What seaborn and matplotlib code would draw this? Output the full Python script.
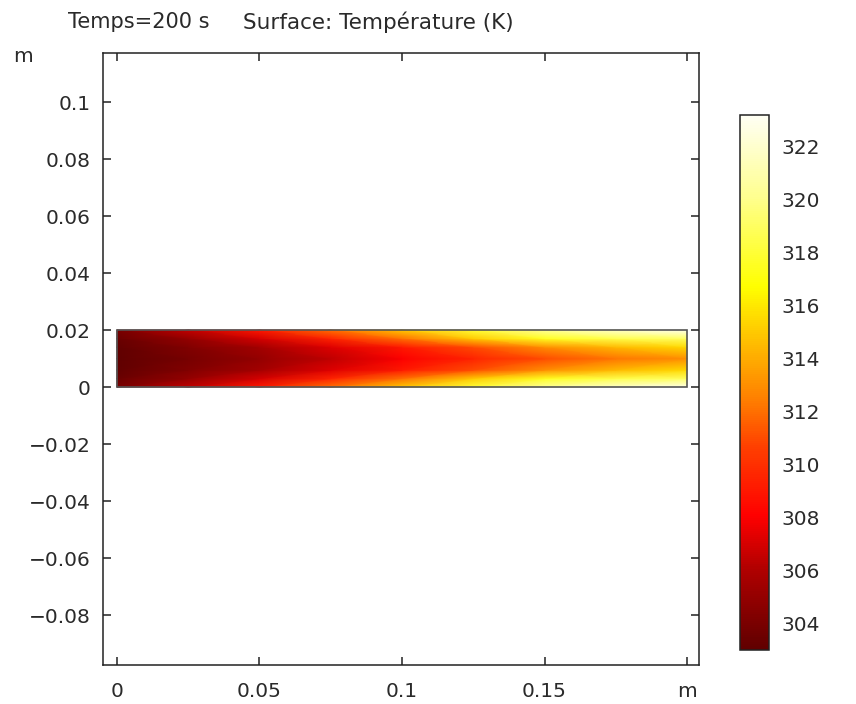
import numpy as np
import seaborn as sns
import matplotlib.pyplot as plt
from matplotlib.colors import LinearSegmentedColormap
from matplotlib.patches import Rectangle

# grid (m)
x_nodes = [0.0, 0.025, 0.05, 0.075, 0.1, 0.125, 0.15, 0.175, 0.2]
y_nodes = [0.0, 0.003, 0.006, 0.01, 0.014, 0.017, 0.02]

# temperature (K), one row per y node (symmetric about the centre line)
temp_wall = [304.0, 306.5, 309.0, 312.0, 315.0, 318.0, 320.5, 322.0, 323.0]
temp_near = [303.4, 305.0, 307.0, 309.5, 312.0, 315.0, 317.5, 318.5, 319.0]
temp_mid = [303.1, 304.3, 305.6, 307.2, 309.0, 311.0, 313.0, 314.5, 315.5]
temp_core = [303.0, 303.9, 305.0, 306.4, 308.0, 309.5, 311.0, 312.2, 313.0]

t_min, t_max = 303.0, 323.2
cbar_ticks = [304, 306, 308, 310, 312, 314, 316, 318, 320, 322]
x_ticks = [0, 0.05, 0.1, 0.15, 0.2]
x_labels = ["0", "0.05", "0.1", "0.15", "m"]
y_ticks = [-0.08, -0.06, -0.04, -0.02, 0, 0.02, 0.04, 0.06, 0.08, 0.1]
y_labels = ["\u22120.08", "\u22120.06", "\u22120.04", "\u22120.02", "0",
            "0.02", "0.04", "0.06", "0.08", "0.1"]

sns.set_style("white")
plt.rcParams["font.family"] = ["DejaVu Sans"]

cmap = LinearSegmentedColormap.from_list("thermal_light", [
    (0.00, "#600000"), (0.15, "#b00000"), (0.25, "#ff0000"), (0.38, "#ff4000"),
    (0.47, "#ff8000"), (0.58, "#ffc000"), (0.68, "#ffff00"), (0.85, "#ffff90"),
    (1.00, "#fffff4")])

T = np.array([temp_wall, temp_near, temp_mid, temp_core, temp_mid, temp_near, temp_wall])
X, Y = np.meshgrid(x_nodes, y_nodes)

fig = plt.figure(figsize=(8.56, 7.04), dpi=100)
ax = fig.add_axes([0.1203, 0.0554, 0.6963, 0.8693])
mesh = ax.pcolormesh(X, Y, T, cmap=cmap, vmin=t_min, vmax=t_max, shading="gouraud")
ax.add_patch(Rectangle((x_nodes[0], y_nodes[0]), x_nodes[-1] - x_nodes[0], y_nodes[-1] - y_nodes[0],
                       fill=False, edgecolor="#555555", linewidth=1.2))

ax.set_xlim(-0.0049, 0.2042)
ax.set_ylim(-0.0975, 0.1172)
ax.set_xticks(x_ticks)
ax.set_xticklabels(x_labels)
ax.set_yticks(y_ticks)
ax.set_yticklabels(y_labels)
ax.tick_params(direction="in", length=6, width=1.1, left=True, bottom=True, top=True, right=True,
               labelsize=14.5, labelcolor="#2a2a2a", color="#222222")
ax.tick_params(axis="x", pad=12)
ax.tick_params(axis="y", pad=9)
for s in ax.spines.values():
    s.set_color("#222222")
    s.set_linewidth(1.1)

fig.text(23 / 856, 1 - 56 / 704, "m", fontsize=14.5, color="#2a2a2a", ha="center", va="center")
fig.text(68 / 856, 1 - 22 / 704, "Temps=200 s", fontsize=15, color="#2a2a2a", va="center")
fig.text(243 / 856, 1 - 22 / 704, "Surface: Température (K)", fontsize=15.5, color="#2a2a2a", va="center")

cax = fig.add_axes([0.8645, 0.0767, 0.0339, 0.7599])
cb = fig.colorbar(mesh, cax=cax, ticks=cbar_ticks)
cb.outline.set_edgecolor("#222222")
cb.outline.set_linewidth(1.1)
cax.tick_params(direction="in", length=5, width=1.1, left=True, right=True,
                labelsize=14.5, labelcolor="#2a2a2a", color="#222222", pad=9)

fig.savefig("out.png", dpi=100)
